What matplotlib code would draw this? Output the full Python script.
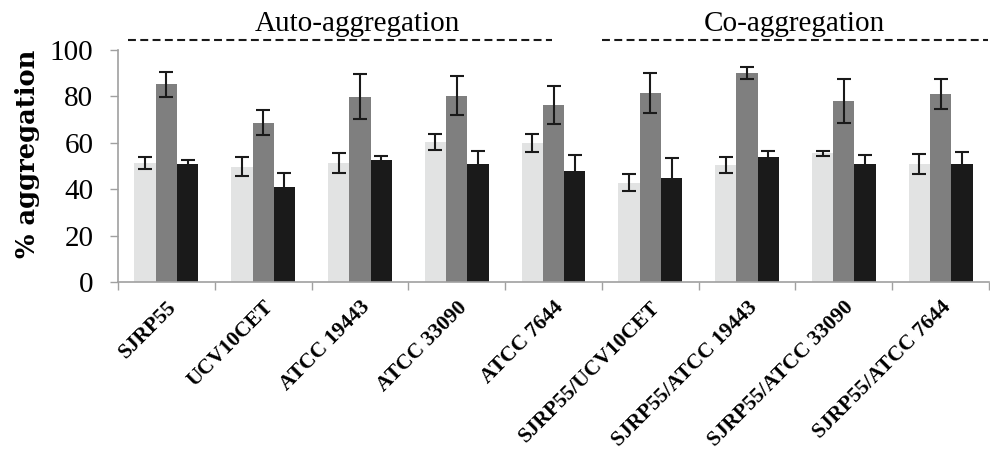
import matplotlib
matplotlib.use("Agg")
import matplotlib.pyplot as plt
import numpy as np

categories = ["SJRP55", "UCV10CET", "ATCC 19443", "ATCC 33090", "ATCC 7644",
              "SJRP55/UCV10CET", "SJRP55/ATCC 19443", "SJRP55/ATCC 33090", "SJRP55/ATCC 7644"]
light_vals = [51.3, 49.7, 51.3, 60.2, 59.8, 42.8, 50.4, 55.5, 50.9]
light_err = [2.5, 4.0, 4.2, 3.4, 3.8, 3.6, 3.3, 1.0, 4.2]
gray_vals = [85.2, 68.7, 79.9, 80.3, 76.3, 81.6, 90.0, 78.1, 80.9]
gray_err = [5.4, 5.5, 9.7, 8.3, 8.3, 8.7, 2.7, 9.5, 6.5]
black_vals = [50.9, 40.8, 52.6, 50.9, 47.8, 45.0, 53.7, 50.9, 50.9]
black_err = [1.5, 6.3, 1.7, 5.6, 6.9, 8.6, 2.8, 3.9, 5.0]
yticks = [0, 20, 40, 60, 80, 100]

fig = plt.figure(figsize=(9.9, 4.53), dpi=100)
ax = fig.add_axes([118/990, 1 - 282/453, (989-118)/990, (282-50)/453])

x = np.arange(len(categories))
w = 0.22
colors = ["#e2e3e3", "#7f7f7f", "#1a1a1a"]
ekw = dict(ecolor="#1a1a1a", elinewidth=1.5, capsize=5, capthick=1.5)
for off, vals, errs, c in [(-w, light_vals, light_err, colors[0]),
                           (0, gray_vals, gray_err, colors[1]),
                           (w, black_vals, black_err, colors[2])]:
    ax.bar(x + off, vals, width=w, color=c, yerr=errs, error_kw=ekw, zorder=2)

ax.set_xlim(-0.5, len(categories) - 0.5)
ax.set_ylim(0, 100)
ax.set_yticks(yticks)
ax.set_yticklabels([str(t) for t in yticks], fontfamily="Liberation Serif", fontsize=21)
ax.tick_params(axis="y", length=5.8, width=1, color="#a0a0a0", pad=12)

ax.set_xticks(x)
ax.set_xticklabels(categories, rotation=45, ha="right", rotation_mode="anchor",
                   fontfamily="Liberation Serif", fontweight="bold", fontsize=15.5)
ax.tick_params(axis="x", length=0, pad=11)
ax.set_xticks(np.arange(-0.5, len(categories) + 0.5, 1), minor=True)
ax.tick_params(axis="x", which="minor", length=5.5, width=1, color="#a0a0a0")

for s in ["top", "right"]:
    ax.spines[s].set_visible(False)
for s in ["left", "bottom"]:
    ax.spines[s].set_color("#a0a0a0")
    ax.spines[s].set_linewidth(1.2)

ax.set_ylabel("% aggregation", fontfamily="DejaVu Serif", fontweight="bold",
              fontsize=18.5)
ax.yaxis.set_label_coords(-0.090, 0.552)

dash = (0, (3.8, 2.1))
ax.plot([-0.397, 3.98], [104.3, 104.3], ls=dash, color="#1a1a1a", lw=1.5, clip_on=False)
ax.plot([4.5, 8.49], [104.3, 104.3], ls=dash, color="#1a1a1a", lw=1.5, clip_on=False)
ax.text(1.97, 108.2, "Auto-aggregation", ha="center", va="baseline",
        fontfamily="Liberation Serif", fontsize=21)
ax.text(6.49, 108.2, "Co-aggregation", ha="center", va="baseline",
        fontfamily="Liberation Serif", fontsize=21)

fig.savefig("out.png", dpi=100)
